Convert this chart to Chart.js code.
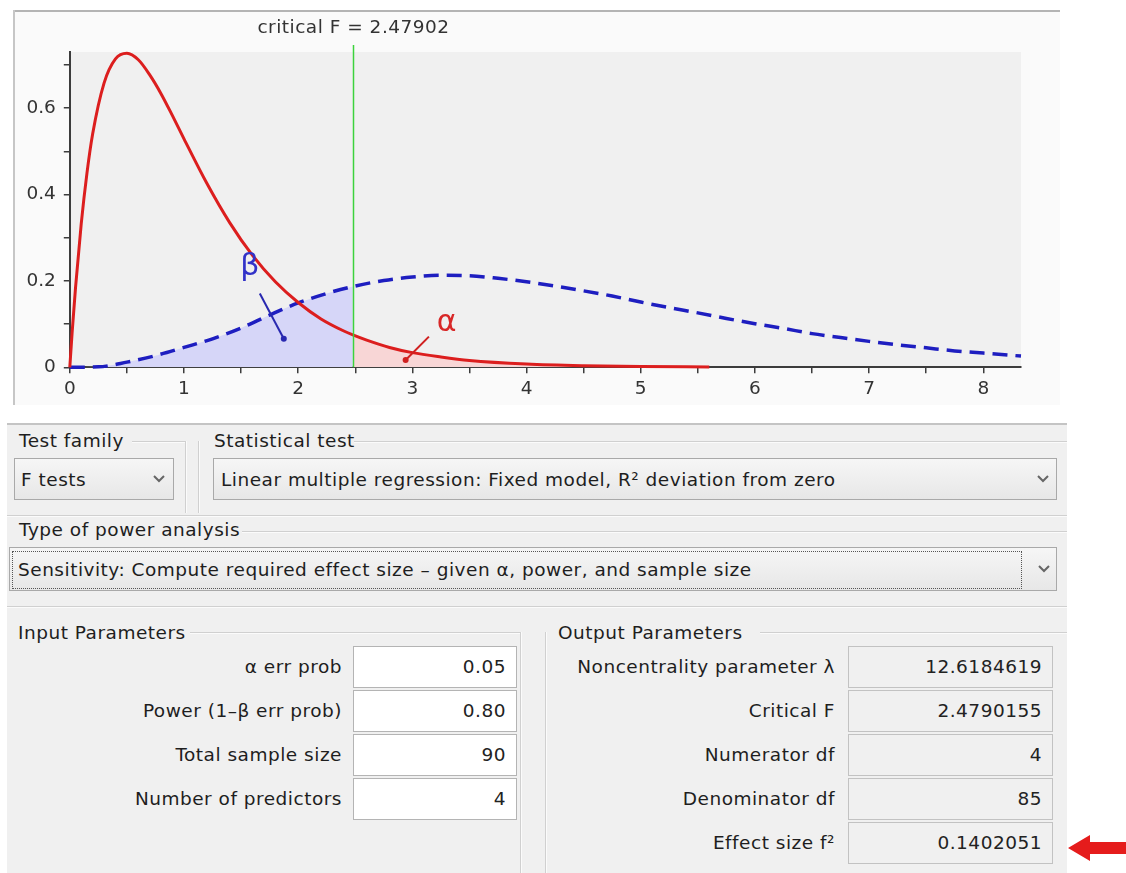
<!DOCTYPE html>
<html>
<head>
<meta charset="utf-8">
<script src="https://cdn.jsdelivr.net/npm/chart.js@4.4.1/dist/chart.umd.min.js"></script>
<style>
  html,body{margin:0;padding:0;background:#fff;}
  body{width:1126px;height:873px;position:relative;overflow:hidden;font-family:'DejaVu Sans',sans-serif;}
  #panel{position:absolute;left:13px;top:10px;width:1047px;height:395px;background:#fafafa;border-top:2px solid #b4b4b4;box-sizing:border-box;}
  #panelLeft{position:absolute;left:13px;top:10px;width:2px;height:395px;background:#c6c6c6;}
  #c{position:absolute;left:13px;top:11px;}
  #form{position:absolute;left:7px;top:423px;width:1060px;height:450px;background:#f0f0f0;border-top:2px solid #c4c4c4;box-sizing:border-box;}
  .lbl{position:absolute;font-size:18.5px;letter-spacing:0.5px;color:#1e1e1e;white-space:nowrap;line-height:20px;}
  .hl{position:absolute;height:1px;background:#d0d0d0;border-bottom:1px solid #fbfbfb;}
  .vl{position:absolute;width:1px;background:#d0d0d0;border-right:1px solid #fbfbfb;}
  .dd{position:absolute;box-sizing:border-box;border:1px solid #a9a9a9;background:linear-gradient(#f6f6f6,#e7e7e7);font-size:18.5px;letter-spacing:0.5px;color:#1e1e1e;white-space:nowrap;}
  .dd .t{position:absolute;top:0;bottom:0;display:flex;align-items:center;}
  .dd svg{position:absolute;}
  .fld{position:absolute;box-sizing:border-box;height:42px;font-size:18.5px;letter-spacing:0.5px;color:#222;text-align:right;padding-right:10px;line-height:40px;white-space:nowrap;}
  .in{background:#fff;border:1px solid #b4b4b4;}
  .out{background:#f0f0f0;border:1px solid #c2c2c2;}
</style>
</head>
<body>
<div id="panel"></div>
<div id="panelLeft"></div>
<canvas id="c" width="1047" height="394"></canvas>
<div id="form"></div>
<div id="formItems"></div>
<svg style="position:absolute;left:1066px;top:834px" width="60" height="30">
  <polygon points="2,14 24,1 24,8 60,8 60,20 24,20 24,27" fill="#e51c1c"/>
</svg>
<script>
// ---- chart data ----
const critF = 2.47902;
const redX  = [0, 0.02, 0.05, 0.1, 0.15, 0.2, 0.3, 0.4, 0.5, 0.6, 0.7, 0.8, 0.9, 1.0, 1.2, 1.4, 1.6, 1.8, 2.0, 2.2, 2.4, 2.479, 2.6, 2.8, 3.0, 3.25, 3.5, 4.0, 4.5, 5.0, 5.6];
const redY  = [0, 0.079, 0.184, 0.332, 0.449, 0.540, 0.658, 0.714, 0.727, 0.712, 0.677, 0.633, 0.582, 0.529, 0.426, 0.335, 0.259, 0.198, 0.150, 0.112, 0.084, 0.075, 0.063, 0.046, 0.034, 0.024, 0.016, 0.0076, 0.0036, 0.0017, 0.0007];
const blueX = [0, 0.25, 0.5, 0.75, 1.0, 1.25, 1.5, 1.75, 2.0, 2.25, 2.479, 2.75, 3.0, 3.25, 3.5, 3.75, 4.0, 4.25, 4.5, 4.75, 5.0, 5.25, 5.5, 5.75, 6.0, 6.25, 6.5, 6.75, 7.0, 7.25, 7.5, 7.75, 8.0, 8.33];
const blueY = [0, 0.001, 0.012, 0.027, 0.046, 0.066, 0.091, 0.121, 0.149, 0.171, 0.187, 0.201, 0.209, 0.213, 0.212, 0.206, 0.198, 0.188, 0.177, 0.165, 0.151, 0.138, 0.126, 0.113, 0.101, 0.090, 0.078, 0.069, 0.060, 0.052, 0.045, 0.038, 0.033, 0.026];
const xTickValues = [0,0.5,1,1.5,2,2.5,3,3.5,4,4.5,5,5.5,6,6.5,7,7.5,8];
const xTickLabels = ['0','','1','','2','','3','','4','','5','','6','','7','','8'];
const yTickValues = [0,0.1,0.2,0.3,0.4,0.5,0.6,0.7];
const yTickLabels = ['0','','0.2','','0.4','','0.6',''];
const xMax = 8.33, yMax = 0.73;
const titleText = 'critical F = 2.47902';

// ---- form texts ----
const inputLabels  = ['\u03b1 err prob','Power (1\u2013\u03b2 err prob)','Total sample size','Number of predictors'];
const inputValues  = ['0.05','0.80','90','4'];
const outputLabels = ['Noncentrality parameter \u03bb','Critical F','Numerator df','Denominator df','Effect size f\u00b2'];
const outputValues = ['12.6184619','2.4790155','4','85','0.1402051'];

const pts = (xs, ys) => xs.map((x,i)=>({x:x, y:ys[i]}));
const redPts = pts(redX, redY), bluePts = pts(blueX, blueY);

const decor = {
  id:'decor',
  beforeDraw(chart){
    const {ctx, chartArea:a} = chart;
    ctx.save(); ctx.fillStyle='#f0f0f0';
    ctx.fillRect(a.left, a.top, a.right-a.left, a.bottom-a.top);
    ctx.restore();
  },
  afterDatasetsDraw(chart){
    const {ctx, chartArea:a, scales:{x, y}} = chart;
    const px = v=>x.getPixelForValue(v), py = v=>y.getPixelForValue(v);
    ctx.save();
    // critical F line
    const cx = Math.round(px(critF))+0.5;
    ctx.strokeStyle='#3cd23c'; ctx.lineWidth=1.5;
    ctx.beginPath(); ctx.moveTo(cx, 34); ctx.lineTo(cx, a.bottom); ctx.stroke();
    ctx.fillStyle='#333'; ctx.font="18.5px 'DejaVu Sans'"; ctx.textAlign='center'; ctx.textBaseline='middle';
    try { ctx.letterSpacing = '0.5px'; } catch(e) {}
    ctx.fillText(titleText, cx, 17);
    try { ctx.letterSpacing = '0px'; } catch(e) {}
    // beta marker
    ctx.strokeStyle='#2828b0'; ctx.fillStyle='#2828b0'; ctx.lineWidth=2;
    ctx.beginPath(); ctx.moveTo(px(1.664), py(0.171)); ctx.lineTo(px(1.874), py(0.066)); ctx.stroke();
    ctx.beginPath(); ctx.arc(px(1.874), py(0.066), 3, 0, Math.PI*2); ctx.fill();
    ctx.fillStyle='#3232c8'; ctx.font="30px 'DejaVu Sans'";
    ctx.fillText('\u03b2', px(1.577), py(0.232));
    // alpha marker
    ctx.strokeStyle='#d02020'; ctx.fillStyle='#d02020';
    ctx.beginPath(); ctx.moveTo(px(3.145), py(0.071)); ctx.lineTo(px(2.941), py(0.017)); ctx.stroke();
    ctx.beginPath(); ctx.arc(px(2.941), py(0.017), 3, 0, Math.PI*2); ctx.fill();
    ctx.fillStyle='#d82828'; ctx.font="30px 'DejaVu Sans'";
    ctx.fillText('\u03b1', px(3.30), py(0.102));
    ctx.restore();
  }
};

new Chart(document.getElementById('c'), {
  type:'line',
  data:{datasets:[
    {data: redPts, borderColor:'#dc1e1e', borderWidth:3, pointRadius:0, fill:false, cubicInterpolationMode:'monotone', order:1, clip:6},
    {data: bluePts, borderColor:'#1e1ec0', borderWidth:3.5, borderDash:[15,8], pointRadius:0, fill:false, cubicInterpolationMode:'monotone', order:1, clip:6},
    {data: bluePts.filter(p=>p.x<=critF+1e-9), borderWidth:0, borderColor:'rgba(0,0,0,0)', backgroundColor:'rgb(214,214,248)', pointRadius:0, fill:'origin', cubicInterpolationMode:'monotone', order:2},
    {data: redPts.filter(p=>p.x>=critF-0.001), borderWidth:0, borderColor:'rgba(0,0,0,0)', backgroundColor:'rgb(248,214,214)', pointRadius:0, fill:'origin', cubicInterpolationMode:'monotone', order:2}
  ]},
  options:{
    responsive:false, animation:false, devicePixelRatio:1,
    layout:{padding:{top:41, right:39, left:0, bottom:0}},
    plugins:{legend:{display:false}, tooltip:{enabled:false}},
    scales:{
      x:{type:'linear', min:0, max:xMax,
        border:{display:true, color:'#3c3c3c', width:2},
        grid:{display:true, drawOnChartArea:false, drawTicks:true, tickLength:6, color:'#3c3c3c', lineWidth:1.5},
        afterBuildTicks:s=>{s.ticks = xTickValues.map(v=>({value:v}));},
        afterFit:s=>{s.height = 37.7;},
        ticks:{autoSkip:false, maxRotation:0, padding:5, color:'#333', font:{family:'DejaVu Sans', size:18.5},
          callback:(v,i)=>xTickLabels[i]}
      },
      y:{type:'linear', min:0, max:yMax,
        border:{display:true, color:'#3c3c3c', width:2},
        grid:{display:true, drawOnChartArea:false, drawTicks:true, tickLength:6, color:'#3c3c3c', lineWidth:1.5},
        afterBuildTicks:s=>{s.ticks = yTickValues.map(v=>({value:v}));},
        afterFit:s=>{s.width = 56.8;},
        ticks:{autoSkip:false, padding:8, color:'#333', font:{family:'DejaVu Sans', size:18.5},
          callback:(v,i)=>yTickLabels[i]}
      }
    }
  },
  plugins:[decor]
});

// ---- form ----
const F = document.getElementById('formItems');
function el(cls, style, html){ const d=document.createElement('div'); d.className=cls; d.style.cssText=style; if(html!==undefined) d.innerHTML=html; F.appendChild(d); return d; }
const chevron = (x,y)=>`<svg style="left:${x}px;top:${y}px" width="12" height="8"><polyline points="1,1 6,6 11,1" fill="none" stroke="#666" stroke-width="2"/></svg>`;

// group lines
el('hl','left:132px;top:441px;width:53px;');
el('vl','left:185px;top:441px;height:72px;');
el('vl','left:198px;top:441px;height:72px;');
el('hl','left:354px;top:441px;width:713px;');
el('hl','left:7px;top:515px;width:1060px;');
el('hl','left:242px;top:531px;width:825px;');
el('hl','left:7px;top:606px;width:1060px;');
el('hl','left:190px;top:632px;width:330px;');
el('vl','left:520px;top:632px;height:241px;');
el('vl','left:545px;top:632px;height:241px;');
el('hl','left:760px;top:632px;width:307px;');

// group titles
el('lbl','left:19px;top:431px;','Test family');
el('lbl','left:214px;top:431px;','Statistical test');
el('lbl','left:19px;top:520px;','Type of power analysis');
el('lbl','left:18px;top:623px;','Input Parameters');
el('lbl','left:558px;top:623px;','Output Parameters');

// dropdowns
el('dd','left:14px;top:458px;width:160px;height:42px;','<span class="t" style="left:6px">F tests</span>'+chevron(138,16));
el('dd','left:213px;top:458px;width:844px;height:42px;','<span class="t" style="left:7px">Linear multiple regression: Fixed model, R\u00b2 deviation from zero</span>'+chevron(823,16));
el('dd','left:9px;top:547px;width:1048px;height:44px;','<div style="position:absolute;left:2px;top:3px;width:1008px;height:36px;border:1px dotted #555;"></div><span class="t" style="left:8px">Sensitivity: Compute required effect size \u2013 given \u03b1, power, and sample size</span>'+chevron(1028,17));

// parameter rows
const rowTops = [646, 690, 734, 778, 822];
inputLabels.forEach((t,i)=>{
  el('lbl',`left:0;width:342px;text-align:right;top:${rowTops[i]+11}px;`, t);
  el('fld in',`left:353px;top:${rowTops[i]}px;width:164px;`, inputValues[i]);
});
outputLabels.forEach((t,i)=>{
  el('lbl',`left:545px;width:290px;text-align:right;top:${rowTops[i]+11}px;`, t);
  el('fld out',`left:848px;top:${rowTops[i]}px;width:205px;`, outputValues[i]);
});
</script>
</body>
</html>
